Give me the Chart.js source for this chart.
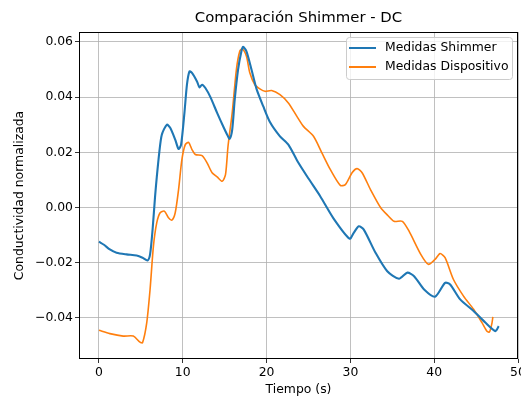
<!DOCTYPE html>
<html><head><meta charset="utf-8">
<script src="https://cdn.jsdelivr.net/npm/chart.js@4.4.0/dist/chart.umd.min.js"></script>
<style>html,body{margin:0;padding:0;background:#fff}#w{width:521px;height:397px}</style>
</head><body><div id="w"><canvas id="c" width="521" height="397"></canvas></div>
<script>
const chartTitle = "Comparación Shimmer - DC";
const xTitle = "Tiempo (s)";
const yTitle = "Conductividad normalizada";
const seriesNames = ["Medidas Shimmer", "Medidas Dispositivo"];
const xTicks = [0, 10, 20, 30, 40, 50];
const yTicks = [-0.04, -0.02, 0.00, 0.02, 0.04, 0.06];

const timeShimmer = [0.0,0.6,1.3,2.1,3.3,4.5,5.2,5.8,6.1,6.4,6.7,6.9,7.2,7.5,8.1,8.5,9.1,9.5,9.8,10.2,10.5,10.8,11.1,11.7,12.0,12.3,12.7,13.3,14.1,14.9,15.3,15.6,15.9,16.2,16.6,17.0,17.2,17.6,18.2,18.8,19.6,20.4,21.6,22.6,23.8,25.0,26.4,28.0,29.9,30.4,31.0,31.6,33.0,34.4,35.8,36.8,37.6,38.8,40.1,41.3,41.9,43.1,44.7,46.1,47.3,47.7];
const valShimmer = [-0.0124,-0.0135,-0.0152,-0.0164,-0.0170,-0.0174,-0.0182,-0.0192,-0.0170,-0.0080,0.0041,0.0110,0.0200,0.0264,0.0300,0.0289,0.0246,0.0212,0.0228,0.0343,0.0445,0.0493,0.0488,0.0457,0.0435,0.0445,0.0433,0.0400,0.0343,0.0289,0.0264,0.0249,0.0282,0.0391,0.0500,0.0566,0.0582,0.0566,0.0500,0.0430,0.0367,0.0310,0.0258,0.0228,0.0162,0.0105,0.0041,-0.0040,-0.0113,-0.0092,-0.0068,-0.0080,-0.0164,-0.0231,-0.0258,-0.0236,-0.0249,-0.0297,-0.0323,-0.0273,-0.0279,-0.0333,-0.0375,-0.0417,-0.0448,-0.0430];

const timeDisp = [0.0,1.3,2.9,4.1,4.9,5.2,5.7,6.1,6.5,6.9,7.3,7.8,8.3,8.7,9.1,9.5,9.9,10.3,10.7,11.1,11.5,12.3,12.9,13.5,14.1,14.7,15.1,15.4,15.9,16.4,16.8,17.1,17.6,18.0,18.6,19.2,19.8,20.6,21.6,22.6,23.6,24.4,25.6,26.6,27.6,28.8,29.4,30.2,30.8,31.4,32.4,33.6,34.5,35.2,36.2,37.0,38.4,39.3,40.1,40.7,41.3,42.3,43.5,44.7,45.7,46.3,46.6,46.9,47.0];
const valDisp = [-0.0445,-0.0457,-0.0466,-0.0466,-0.0488,-0.0490,-0.0418,-0.0297,-0.0140,-0.0055,-0.0019,-0.0013,-0.0037,-0.0046,-0.0019,0.0065,0.0174,0.0228,0.0236,0.0210,0.0192,0.0188,0.0162,0.0126,0.0111,0.0095,0.0119,0.0222,0.0343,0.0500,0.0566,0.0575,0.0548,0.0488,0.0445,0.0430,0.0421,0.0424,0.0409,0.0379,0.0331,0.0294,0.0258,0.0198,0.0138,0.0080,0.0083,0.0126,0.0141,0.0126,0.0065,0.0000,-0.0030,-0.0050,-0.0050,-0.0086,-0.0170,-0.0206,-0.0188,-0.0167,-0.0182,-0.0261,-0.0321,-0.0369,-0.0417,-0.0448,-0.0451,-0.0418,-0.0396];

const colors = ["#1f77b4", "#ff7f0e"];
const FONT = "'DejaVu Sans', sans-serif";
const FS = 12.4;

function pts(xs, ys){ return xs.map((x,i)=>({x:x, y:ys[i]})); }

const overlay = {
  id: 'overlay',
  afterDraw(chart){
    const ctx = chart.ctx, a = chart.chartArea;
    ctx.save();
    ctx.strokeStyle = '#000'; ctx.lineWidth = 1;
    ctx.strokeRect(Math.round(a.left)+0.5, Math.round(a.top)+0.5, Math.round(a.right-a.left)-1, Math.round(a.bottom-a.top)-1);
    ctx.fillStyle = '#000';
    ctx.font = "14.9px " + FONT;
    ctx.textAlign = 'center'; ctx.textBaseline = 'middle';
    ctx.fillText(chartTitle, (a.left+a.right)/2, 18);
    const bx = 346, by = 37, bw = 166, bh = 42;
    ctx.beginPath();
    ctx.roundRect(bx+0.5, by+0.5, bw, bh, 3);
    ctx.fillStyle = 'rgba(255,255,255,0.8)'; ctx.fill();
    ctx.strokeStyle = '#cccccc'; ctx.lineWidth = 1; ctx.stroke();
    ctx.font = FS + "px " + FONT; ctx.textAlign = 'left'; ctx.textBaseline = 'middle';
    const rows = [48, 67];
    chart.data.datasets.forEach((d, i) => {
      ctx.strokeStyle = d.borderColor; ctx.lineWidth = 2;
      ctx.beginPath(); ctx.moveTo(349, rows[i]); ctx.lineTo(376, rows[i]); ctx.stroke();
      ctx.fillStyle = '#000';
      ctx.fillText(d.label, 385, rows[i]);
    });
    ctx.restore();
  }
};

new Chart(document.getElementById('c'), {
  type: 'line',
  data: {
    datasets: [
      {label: seriesNames[0], data: pts(timeShimmer, valShimmer), borderColor: colors[0], borderWidth: 2.1, pointRadius: 0, tension: 0.25, fill: false},
      {label: seriesNames[1], data: pts(timeDisp, valDisp), borderColor: colors[1], borderWidth: 1.6, pointRadius: 0, tension: 0.25, fill: false}
    ]
  },
  options: {
    responsive: false, animation: false,
    layout: {padding: {top: 32, right: 3, left: 0, bottom: 0}},
    plugins: {legend: {display: false}, title: {display: false}, tooltip: {enabled: false}},
    scales: {
      x: {
        type: 'linear', min: -2.38, max: 50,
        afterBuildTicks: s => { s.ticks = xTicks.map(v => ({value: v})); },
        afterFit: s => { s.height = 38; s.paddingLeft = 0; s.paddingRight = 0; },
        ticks: {color: '#000', font: {family: FONT, size: FS}, padding: 2, maxRotation: 0, autoSkip: false, callback: v => String(v)},
        grid: {color: '#b0b0b0', lineWidth: 0.8, tickColor: '#000', tickLength: 4, drawTicks: true},
        border: {display: false},
        title: {display: true, text: xTitle, color: '#000', font: {family: FONT, size: FS}, padding: {top: 0, bottom: 0}}
      },
      y: {
        type: 'linear', min: -0.0549, max: 0.0636,
        afterBuildTicks: s => { s.ticks = yTicks.map(v => ({value: v})); },
        afterFit: s => { s.width = 79; s.paddingTop = 0; s.paddingBottom = 0; },
        ticks: {color: '#000', font: {family: FONT, size: FS}, padding: 2, autoSkip: false,
          callback: v => (v < -1e-9 ? '\u2212' : '') + Math.abs(v).toFixed(2)},
        grid: {color: '#b0b0b0', lineWidth: 0.8, tickColor: '#000', tickLength: 4, drawTicks: true},
        border: {display: false},
        title: {display: true, text: yTitle, color: '#000', font: {family: FONT, size: FS}, padding: {top: 12, bottom: 0}}
      }
    }
  },
  plugins: [overlay]
});
</script>
</body></html>
